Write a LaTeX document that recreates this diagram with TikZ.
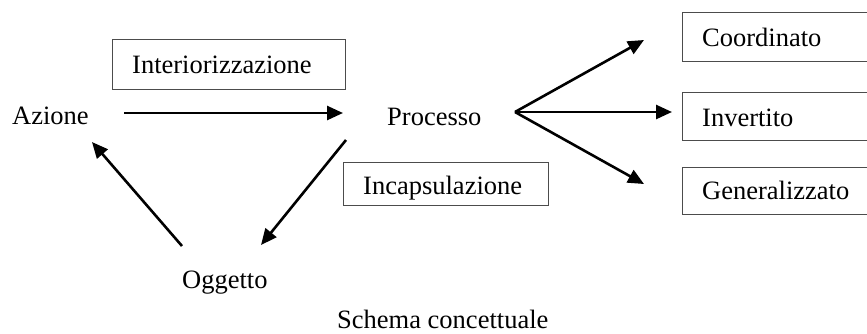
\documentclass[tikz,border=0pt]{standalone}
\usepackage{fontspec}
\setmainfont{Liberation Serif}
\usetikzlibrary{arrows.meta}
\begin{document}
\begin{tikzpicture}[x=1pt,y=-1pt,
  lbl/.style={anchor=base west,inner sep=0pt,font=\fontsize{26.5}{30}\selectfont},
  boxr/.style={draw=black!70,line width=1.1pt,anchor=north west,inner sep=0pt},
  arr/.style={line width=2.6pt,-{Triangle[length=16pt,width=14pt]}},
  ln/.style={line width=2.6pt}]
\clip (0,0) rectangle (867,333);
\fill[white] (0,0) rectangle (867,333);
% boxes
\node[boxr,minimum width=233pt,minimum height=50pt] (bint) at (112,39) {};
\node[boxr,minimum width=205pt,minimum height=43pt] (binc) at (343,162) {};
\node[boxr,minimum width=200pt,minimum height=49pt] (bcoo) at (682,12) {};
\node[boxr,minimum width=200pt,minimum height=48pt] (binv) at (682,92) {};
\node[boxr,minimum width=200pt,minimum height=47pt] (bgen) at (682,167) {};
% texts
\node[lbl] (tint) at (132,73) {Interiorizzazione};
\node[lbl] (az) at (12,124) {Azione};
\node[lbl] (pr) at (387,125) {Processo};
\node[lbl] (tinc) at (363,194) {Incapsulazione};
\node[lbl] (og) at (182,288) {Oggetto};
\node[lbl] (tcoo) at (702,46) {Coordinato};
\node[lbl] (tinv) at (702,126) {Invertito};
\node[lbl] (tgen) at (702,199) {Generalizzato};
\node[lbl] (sch) at (337,328) {Schema concettuale};
% connector ends
\coordinate (a1) at (124,113);
\coordinate (p1) at (343,113);
\coordinate (p2) at (346,140);
\coordinate (o1) at (261,245);
\coordinate (o2) at (182,246);
\coordinate (a2) at (92,142);
\coordinate (br) at (515,112);
\coordinate (c1) at (644,40);
\coordinate (i1) at (672,112);
\coordinate (g1) at (644,184);
% arrows
\draw[arr] (a1) -- (p1);
\draw[arr] (p2) -- (o1);
\draw[arr] (o2) -- (a2);
\draw[arr] (br) -- (c1);
\draw[arr] (br) -- (i1);
\draw[arr] (br) -- (g1);
\end{tikzpicture}
\end{document}
